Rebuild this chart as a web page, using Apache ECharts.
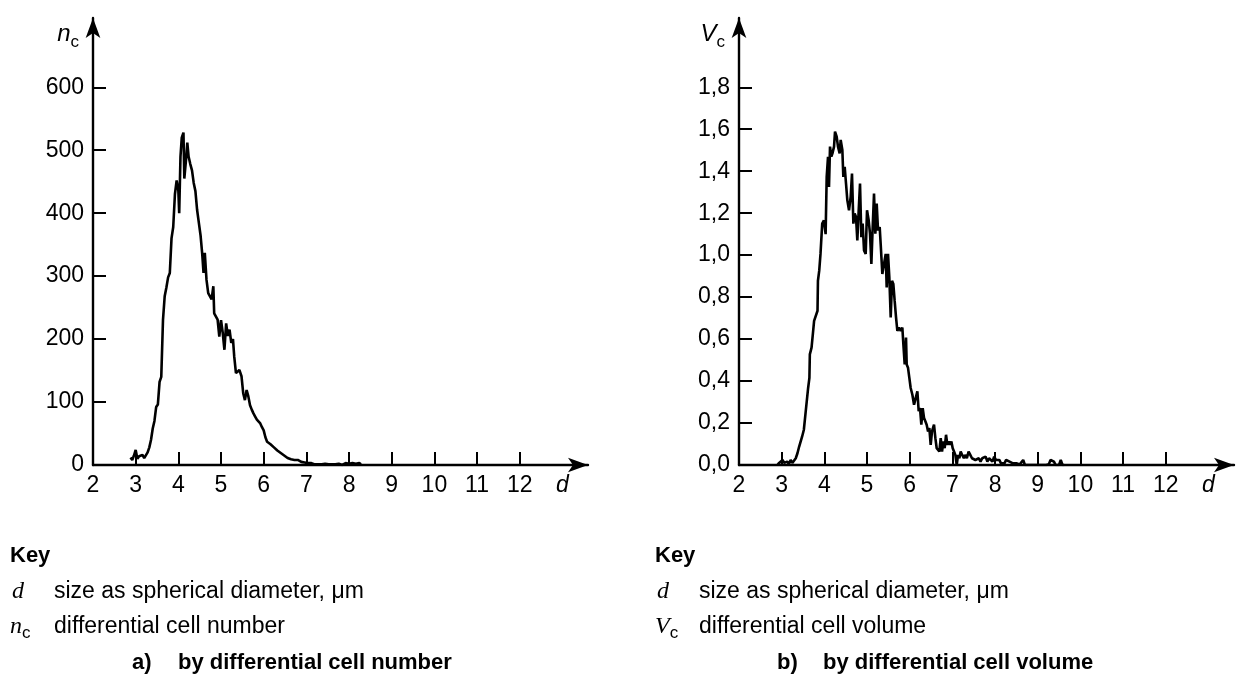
<!DOCTYPE html>
<html><head><meta charset="utf-8">
<script src="https://cdn.jsdelivr.net/npm/echarts@6/dist/echarts.min.js"></script>
<style>html,body{margin:0;padding:0;background:#fff}#c{width:1242px;height:699px}</style>
</head><body><div id="c"></div>
<script>
// ---- tick / label values ----
const xTicks = [3, 4, 5, 6, 7, 8, 9, 10, 11, 12];
const xLabels = [2, 3, 4, 5, 6, 7, 8, 9, 10, 11, 12, 13]; // 13 carries the axis symbol "d"
const ncTicks = [100, 200, 300, 400, 500, 600];
const ncLabels = [0, 100, 200, 300, 400, 500, 600];
const vcTicks = [0.2, 0.4, 0.6, 0.8, 1.0, 1.2, 1.4, 1.6, 1.8];
const vcLabels = [0, 0.2, 0.4, 0.6, 0.8, 1.0, 1.2, 1.4, 1.6, 1.8];

// ---- a) differential cell number ----
const dNumber = [2.88,2.92,2.96,3.00,3.04,3.08,3.12,3.16,3.20,3.24,3.28,3.32,3.36,3.40,3.44,3.48,3.52,3.56,3.60,3.64,
3.68,3.72,3.76,3.80,3.84,3.88,3.92,3.96,4.00,4.02,4.05,4.08,4.12,4.14,4.18,4.21,4.24,4.28,4.32,4.36,
4.40,4.44,4.48,4.52,4.56,4.59,4.62,4.66,4.70,4.74,4.78,4.82,4.84,4.88,4.92,4.96,5.00,5.04,5.08,5.12,
5.16,5.20,5.24,5.28,5.31,5.35,5.39,5.43,5.48,5.52,5.56,5.60,5.64,5.68,5.72,5.76,5.80,5.84,5.88,5.92,
5.96,6.00,6.04,6.08,6.12,6.16,6.20,6.24,6.28,6.32,6.36,6.40,6.44,6.48,6.52,6.56,6.60,6.64,6.68,6.72,
6.76,6.80,6.84,6.88,6.92,6.96,7.00,7.04,7.08,7.12,7.16,7.20,7.24,7.28,7.32,7.36,7.40,7.44,7.48,7.52,
7.56,7.60,7.64,7.68,7.72,7.76,7.80,7.84,7.88,7.92,7.96,8.00,8.04,8.08,8.12,8.16,8.20,8.24,8.28];
const nCells = [12,8,15,24,10,14,12,16,11,14,20,28,40,58,70,92,96,132,140,230,
268,282,298,305,360,378,430,452,436,400,490,520,528,455,485,512,490,478,468,448,
435,405,385,365,335,305,337,294,273,272,263,284,241,240,231,204,230,210,183,225,
205,215,194,200,172,146,148,151,141,114,103,119,109,95,88,82,77,72,69,66,
60,55,44,37,35,33,30,28,25,23,21,19,16,15,12,11,10,9,8,8,
7,8,6,5,5,4,4,3,2,3,2,1,2,1,2,1,1,2,1,1,
0,1,2,1,1,2,1,0,1,3,1,2,1,3,4,2,1,3,1];

// ---- b) differential cell volume ----
const dVolume = [2.90,2.94,2.98,3.02,3.06,3.10,3.13,3.17,3.21,3.25,3.27,3.33,3.37,3.41,3.45,3.48,3.52,3.56,3.59,3.62,
3.65,3.66,3.70,3.73,3.76,3.80,3.84,3.85,3.88,3.91,3.95,3.99,4.03,4.055,4.086,4.109,4.133,4.164,4.19,4.227,
4.25,4.289,4.32,4.359,4.383,4.422,4.445,4.477,4.508,4.539,4.578,4.617,4.648,4.68,4.711,4.742,4.773,4.805,4.836,4.867,
4.898,4.93,4.969,5.0,5.039,5.07,5.102,5.133,5.164,5.195,5.227,5.258,5.297,5.32,5.359,5.398,5.438,5.461,5.492,5.523,
5.555,5.586,5.617,5.648,5.68,5.711,5.75,5.789,5.828,5.852,5.883,5.914,5.93,5.961,5.992,6.023,6.063,6.102,6.141,6.18,
6.211,6.242,6.273,6.305,6.336,6.367,6.398,6.43,6.461,6.492,6.523,6.57,6.602,6.633,6.664,6.695,6.727,6.758,6.789,6.82,
6.852,6.883,6.914,6.945,6.977,7.008,7.039,7.07,7.102,7.133,7.164,7.195,7.23,7.27,7.30,7.34,7.38,7.42,7.46,7.50,
7.54,7.58,7.62,7.66,7.70,7.74,7.78,7.82,7.86,7.90,7.94,7.98,8.02,8.06,8.10,8.14,8.18,8.22,8.26,8.30,
8.34,8.38,8.42,8.46,8.50,8.54,8.58,8.62,8.66,8.70,8.74,8.80,8.90,9.00,9.10,9.20,9.26,9.30,9.34,9.38,
9.42,9.46,9.50,9.54,9.58,9.62];
const vCells = [0.00,0.010,0.005,0.024,0.010,0.015,0.016,0.005,0.024,0.010,0.016,0.032,0.056,0.088,0.096,0.136,0.168,0.248,0.256,0.367,
0.415,0.527,0.559,0.623,0.687,0.687,0.735,0.878,0.926,1.006,1.150,1.166,1.100,1.373,1.469,1.325,1.517,1.469,1.485,1.517,
1.589,1.565,1.517,1.485,1.549,1.501,1.373,1.421,1.341,1.261,1.214,1.277,1.389,1.150,1.198,1.182,1.070,1.214,1.341,1.086,
1.150,1.022,1.006,1.214,1.166,1.102,0.958,1.134,1.293,1.102,1.246,1.118,1.134,1.054,0.910,0.958,1.006,0.846,1.006,0.894,
0.703,0.878,0.862,0.782,0.703,0.639,0.655,0.639,0.655,0.575,0.479,0.607,0.479,0.463,0.415,0.367,0.335,0.287,0.287,0.351,
0.256,0.271,0.192,0.271,0.224,0.208,0.192,0.160,0.176,0.096,0.160,0.192,0.128,0.080,0.080,0.064,0.128,0.064,0.112,0.080,
0.144,0.096,0.112,0.096,0.112,0.080,0.064,0.048,0.000,0.048,0.032,0.064,0.048,0.032,0.048,0.032,0.064,0.048,0.032,0.040,
0.024,0.016,0.032,0.016,0.032,0.024,0.040,0.016,0.032,0.024,0.016,0.040,0.024,0.016,0.024,0.008,0.016,0.008,0.024,0.032,
0.016,0.008,0.008,0.003,0.008,0.000,0.003,0.003,0.024,0.000,0.000,0.000,0.000,0.000,0.000,0.000,0.003,0.024,0.032,0.016,
0.000,0.000,0.000,0.024,0.000,0.000];

const SANS = 'Liberation Sans, Arial, sans-serif';
const SERIF = 'Liberation Serif, Times New Roman, serif';
const FS = 23;
const BLACK = '#000';

function xAxisDef(gridIndex) {
  return {
    type: 'value', gridIndex, min: 2, max: 13.6,
    axisLine: { show: true, lineStyle: { color: BLACK, width: 2.4 }, symbol: ['none', 'arrow'], symbolSize: [11, 20] },
    axisTick: { show: true, inside: true, length: 13, lineStyle: { color: BLACK, width: 2 }, customValues: xTicks },
    axisLabel: {
      show: true, customValues: xLabels, margin: 9, color: BLACK, fontFamily: SANS, fontSize: FS,
      formatter: v => (v === 13 ? '{i|d}' : String(v)),
      rich: { i: { fontStyle: 'italic', fontFamily: SANS, fontSize: FS, color: BLACK } }
    },
    splitLine: { show: false }
  };
}
function yAxisDef(gridIndex, max, ticks, labels, fmt, sym) {
  return {
    type: 'value', gridIndex, min: 0, max,
    axisLine: { show: true, lineStyle: { color: BLACK, width: 2.4 }, symbol: ['none', 'arrow'], symbolSize: [11, 20] },
    axisTick: { show: true, inside: true, length: 13, lineStyle: { color: BLACK, width: 2 }, customValues: ticks },
    axisLabel: { show: true, customValues: labels, margin: 9, color: BLACK, fontFamily: SANS, fontSize: FS, formatter: fmt },
    splitLine: { show: false },
    name: '{i|' + sym + '}{s|c}', nameLocation: 'end', nameGap: -16,
    nameTextStyle: {
      align: 'right', verticalAlign: 'middle', padding: [0, 14, 0, 0], lineHeight: 34,
      rich: {
        i: { fontStyle: 'italic', fontFamily: SANS, fontSize: FS + 1, color: BLACK, verticalAlign: 'middle', lineHeight: 34 },
        s: { fontFamily: SANS, fontSize: 17, color: BLACK, verticalAlign: 'bottom', lineHeight: 34 }
      }
    }
  };
}

function keyBlock(x0, sym, text, title1, title2) {
  const els = [];
  els.push({ type: 'text', x: x0, y: 556, style: { text: 'Key', fontFamily: SANS, fontWeight: 'bold', fontSize: 22, fill: BLACK, verticalAlign: 'middle' } });
  els.push({ type: 'text', x: x0 + 2, y: 592, style: { text: 'd', fontFamily: SERIF, fontStyle: 'italic', fontSize: 24, fill: BLACK, verticalAlign: 'middle' } });
  els.push({ type: 'text', x: x0 + 44, y: 592, style: { text: 'size as spherical diameter, μm', fontFamily: SANS, fontSize: 23, fill: BLACK, verticalAlign: 'middle' } });
  els.push({ type: 'text', x: x0, y: 627, style: {
    text: '{i|' + sym + '}{s|c}', fill: BLACK, verticalAlign: 'middle',
    rich: {
      i: { fontFamily: SERIF, fontStyle: 'italic', fontSize: 24, fill: BLACK, verticalAlign: 'middle', lineHeight: 30 },
      s: { fontFamily: SANS, fontSize: 17, fill: BLACK, verticalAlign: 'bottom', lineHeight: 30 }
    } } });
  els.push({ type: 'text', x: x0 + 44, y: 627, style: { text: text, fontFamily: SANS, fontSize: 23, fill: BLACK, verticalAlign: 'middle' } });
  els.push({ type: 'text', x: x0 + 122, y: 663, style: { text: title1, fontFamily: SANS, fontWeight: 'bold', fontSize: 22, fill: BLACK, verticalAlign: 'middle' } });
  els.push({ type: 'text', x: x0 + 168, y: 663, style: { text: title2, fontFamily: SANS, fontWeight: 'bold', fontSize: 22, fill: BLACK, verticalAlign: 'middle' } });
  return els;
}

const chart = echarts.init(document.getElementById('c'), null, { renderer: 'canvas' });
chart.setOption({
  animation: false,
  backgroundColor: '#fff',
  grid: [
    { left: 93, top: 18, width: 495, height: 447 },
    { left: 739, top: 18, width: 495, height: 447 }
  ],
  xAxis: [xAxisDef(0), xAxisDef(1)],
  yAxis: [
    yAxisDef(0, 710, ncTicks, ncLabels, v => String(v), 'n'),
    yAxisDef(1, 2.13, vcTicks, vcLabels, v => v.toFixed(1).replace('.', ','), 'V')
  ],
  series: [
    { type: 'line', xAxisIndex: 0, yAxisIndex: 0, symbol: 'none', lineStyle: { color: BLACK, width: 2.6 },
      data: dNumber.map((d, i) => [d, nCells[i]]) },
    { type: 'line', xAxisIndex: 1, yAxisIndex: 1, symbol: 'none', lineStyle: { color: BLACK, width: 2.6 },
      data: dVolume.map((d, i) => [d, vCells[i]]) }
  ],
  graphic: [
    ...keyBlock(10, 'n', 'differential cell number', 'a)', 'by differential cell number'),
    ...keyBlock(655, 'V', 'differential cell volume', 'b)', 'by differential cell volume')
  ]
});
</script></body></html>
